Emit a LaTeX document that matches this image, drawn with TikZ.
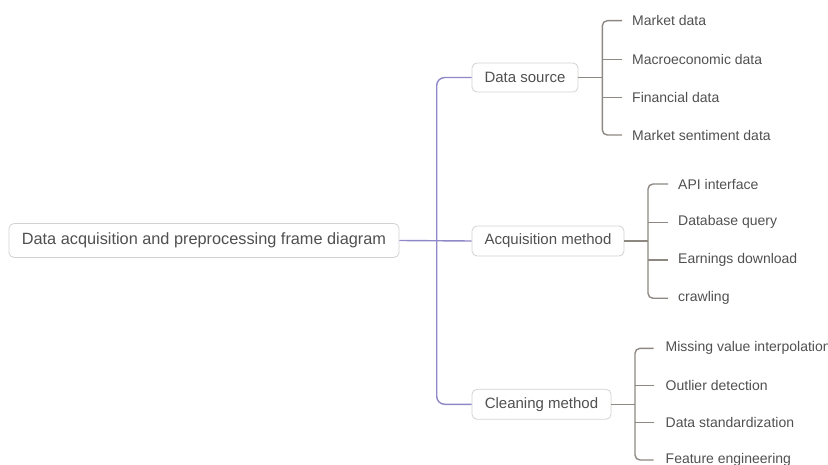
\documentclass[tikz,border=0pt]{standalone}
\usepackage{fontspec}
\setmainfont{Liberation Sans}
\definecolor{trunkc}{HTML}{8E87C8}
\definecolor{brkc}{HTML}{8E8882}
\definecolor{boxc}{HTML}{D2D2D2}
\definecolor{txtc}{HTML}{505050}
\begin{document}
\begin{tikzpicture}[x=1pt,y=-1pt,
  topic/.style={draw=boxc,line width=0.8pt,rounded corners=5pt,fill=white,text=txtc,
    font=\fontsize{15}{18}\selectfont,inner sep=0pt},
  leaf/.style={anchor=west,text=txtc,font=\fontsize{14}{17}\selectfont,inner xsep=10pt,inner ysep=0pt},
  trunk/.style={draw=trunkc,line width=1.4pt,rounded corners=8pt},
  brk/.style={draw=brkc,line width=1.4pt,rounded corners=5pt}]
\useasboundingbox (0,0) rectangle (828,465);
\clip (0,0) rectangle (828,465);
% topic boxes
\node[topic,minimum width=390pt,minimum height=34pt,font=\fontsize{16.3}{19}\selectfont] (root) at (204,240.5) {Data acquisition and preprocessing frame diagram};
\node[topic,minimum width=106pt,minimum height=29pt] (ds) at (525,77.5) {Data source};
\node[topic,minimum width=152pt,minimum height=30pt] (am) at (548,241) {Acquisition method};
\node[topic,minimum width=139pt,minimum height=30pt] (cm) at (541.5,404.3) {Cleaning method};
% trunk
\coordinate (tk) at (436.7,241);
\draw[trunk] (ds.west) -- (ds.west -| tk) -- (cm.west -| tk) -- (cm.west);
\draw[trunk] (root.east) -- (am.west);
% data source leaves
\node[leaf] (d1) at (622,20.7) {Market data};
\node[leaf] (d2) at (622,59.5) {Macroeconomic data};
\node[leaf] (d3) at (622,97.3) {Financial data};
\node[leaf] (d4) at (622,135) {Market sentiment data};
\coordinate (bx1) at (602.3,77.5);
\draw[brk] (ds.east) -- (bx1);
\draw[brk] (d1.west) -- (d1.west -| bx1) -- (d4.west -| bx1) -- (d4.west);
\draw[brk] (d2.west) -- (d2.west -| bx1);
\draw[brk] (d3.west) -- (d3.west -| bx1);
% acquisition leaves
\node[leaf] (a1) at (668,184) {API interface};
\node[leaf] (a2) at (668,222.3) {Database query};
\node[leaf] (a3) at (668,260) {Earnings download};
\node[leaf] (a4) at (668,298.3) {crawling};
\coordinate (bx2) at (648,241);
\draw[brk] (am.east) -- (bx2);
\draw[brk] (a1.west) -- (a1.west -| bx2) -- (a4.west -| bx2) -- (a4.west);
\draw[brk] (a2.west) -- (a2.west -| bx2);
\draw[brk] (a3.west) -- (a3.west -| bx2);
% cleaning leaves
\node[leaf,inner xsep=12pt] (c1) at (653.5,348.3) {Missing value interpolation};
\node[leaf,inner xsep=12pt] (c2) at (653.5,385.7) {Outlier detection};
\node[leaf,inner xsep=12pt] (c3) at (653.5,422.7) {Data standardization};
\node[leaf,inner xsep=12pt] (c4) at (653.5,460) {Feature engineering};
\coordinate (bx3) at (635,404.3);
\draw[brk] (cm.east) -- (bx3);
\draw[brk] (c1.west) -- (c1.west -| bx3) -- (c4.west -| bx3) -- (c4.west);
\draw[brk] (c2.west) -- (c2.west -| bx3);
\draw[brk] (c3.west) -- (c3.west -| bx3);
\end{tikzpicture}
\end{document}
